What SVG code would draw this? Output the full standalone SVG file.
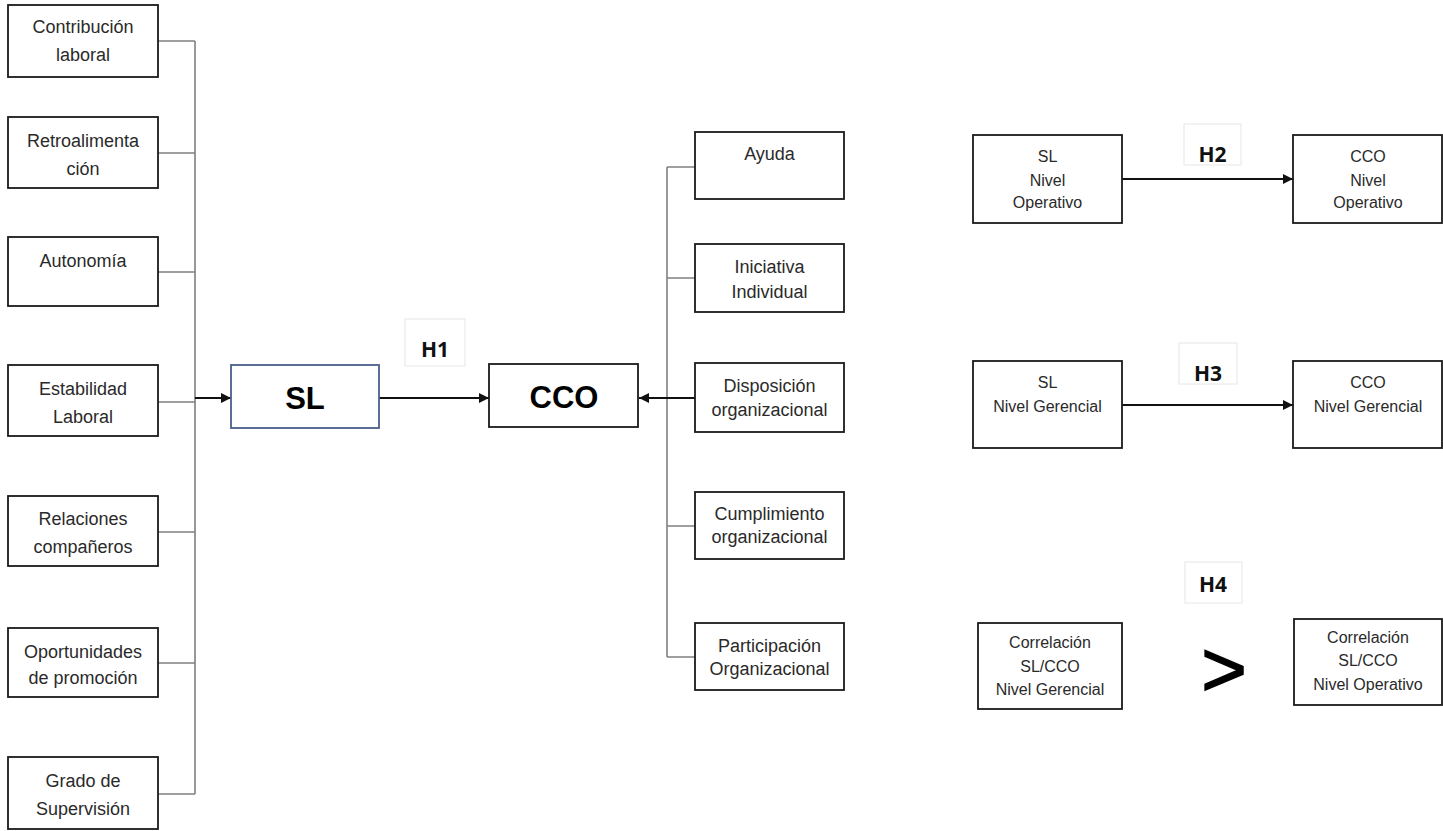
<svg xmlns="http://www.w3.org/2000/svg" width="1443" height="831" viewBox="0 0 1443 831">
<style>
.box{fill:#fff;stroke:#1a1a1a;stroke-width:1.8}
.sl{fill:#fff;stroke:#4a5f8c;stroke-width:1.8}
.lbl{fill:#fff;stroke:#e6e6e6;stroke-width:1}
.t{font-family:"Liberation Sans",Arial,sans-serif;font-size:18px;fill:#2a2a2a;text-anchor:middle}
.s{font-family:"Liberation Sans",Arial,sans-serif;font-size:16px;fill:#2a2a2a;text-anchor:middle}
.big{font-family:"Liberation Sans",Arial,sans-serif;font-size:31px;font-weight:bold;fill:#000;text-anchor:middle}
.h{font-family:"Open Sans","Liberation Sans",sans-serif;font-size:21px;font-weight:bold;fill:#111;text-anchor:middle}
.g{stroke:#808080;stroke-width:1.6;fill:none}
.a{stroke:#111;stroke-width:1.8;fill:none;marker-end:url(#ah)}
</style>
<defs>
<marker id="ah" viewBox="0 0 10 10" refX="10" refY="5" markerWidth="10" markerHeight="10" markerUnits="userSpaceOnUse" orient="auto">
<path d="M0,0 L10,5 L0,10 z" fill="#111"/>
</marker>
</defs>
<rect width="1443" height="831" fill="#fff"/>
<g id="connectors">
<path class="g" d="M195,41 V794 M158,41 H195 M158,153 H195 M158,272 H195 M158,402 H195 M158,532 H195 M158,663 H195 M158,794 H195"/>
<path class="a" d="M195,398 H231"/>
<path class="a" d="M379,398 H489"/>
<path class="g" d="M667,167 V657 M667,167 H695 M667,278 H695 M667,526 H695 M667,657 H695"/>
<path class="a" d="M695,398 H639"/>
<path class="a" d="M1122,179 H1293"/>
<path class="a" d="M1122,405 H1293"/>
</g>
<g id="n-contribucion"><rect class="box" x="8" y="5" width="150" height="72"/><text class="t" x="83" y="33">Contribución</text><text class="t" x="83" y="61">laboral</text></g>
<g id="n-retro"><rect class="box" x="8" y="117" width="150" height="71"/><text class="t" x="83" y="147">Retroalimenta</text><text class="t" x="83" y="175">ción</text></g>
<g id="n-autonomia"><rect class="box" x="8" y="237" width="150" height="69"/><text class="t" x="83" y="267">Autonomía</text></g>
<g id="n-estabilidad"><rect class="box" x="8" y="365" width="150" height="71"/><text class="t" x="83" y="395">Estabilidad</text><text class="t" x="83" y="423">Laboral</text></g>
<g id="n-relaciones"><rect class="box" x="8" y="496" width="150" height="70"/><text class="t" x="83" y="525">Relaciones</text><text class="t" x="83" y="553">compañeros</text></g>
<g id="n-oportunidades"><rect class="box" x="8" y="628" width="150" height="69"/><text class="t" x="83" y="658">Oportunidades</text><text class="t" x="83" y="684">de promoción</text></g>
<g id="n-grado"><rect class="box" x="8" y="757" width="150" height="72"/><text class="t" x="83" y="787">Grado de</text><text class="t" x="83" y="815">Supervisión</text></g>
<g id="n-sl"><rect class="sl" x="231" y="365" width="148" height="63"/><text class="big" x="305" y="409">SL</text></g>
<g id="l-h1"><rect class="lbl" x="405" y="319" width="60" height="47"/><text class="h" x="435" y="357">H1</text></g>
<g id="n-cco"><rect class="box" x="489" y="364" width="149" height="63"/><text class="big" x="564" y="408">CCO</text></g>
<g id="n-ayuda"><rect class="box" x="695" y="132" width="149" height="67"/><text class="t" x="769.5" y="160">Ayuda</text></g>
<g id="n-iniciativa"><rect class="box" x="695" y="244" width="149" height="68"/><text class="t" x="769.5" y="273">Iniciativa</text><text class="t" x="769.5" y="298">Individual</text></g>
<g id="n-disposicion"><rect class="box" x="695" y="363" width="149" height="69"/><text class="t" x="769.5" y="392">Disposición</text><text class="t" x="769.5" y="416">organizacional</text></g>
<g id="n-cumplimiento"><rect class="box" x="695" y="492" width="149" height="67"/><text class="t" x="769.5" y="520">Cumplimiento</text><text class="t" x="769.5" y="543">organizacional</text></g>
<g id="n-participacion"><rect class="box" x="695" y="623" width="149" height="67"/><text class="t" x="769.5" y="652">Participación</text><text class="t" x="769.5" y="675">Organizacional</text></g>
<g id="n-sl-op"><rect class="box" x="973" y="135" width="149" height="88"/><text class="s" x="1047.5" y="162">SL</text><text class="s" x="1047.5" y="186">Nivel</text><text class="s" x="1047.5" y="208">Operativo</text></g>
<g id="l-h2"><rect class="lbl" x="1184" y="124" width="57" height="41"/><text class="h" x="1212.5" y="162">H2</text></g>
<g id="n-cco-op"><rect class="box" x="1293" y="135" width="149" height="88"/><text class="s" x="1368" y="162">CCO</text><text class="s" x="1368" y="186">Nivel</text><text class="s" x="1368" y="208">Operativo</text></g>
<g id="n-sl-ger"><rect class="box" x="973" y="361" width="149" height="87"/><text class="s" x="1047.5" y="388">SL</text><text class="s" x="1047.5" y="412">Nivel Gerencial</text></g>
<g id="l-h3"><rect class="lbl" x="1179" y="343" width="58" height="41"/><text class="h" x="1208" y="381">H3</text></g>
<g id="n-cco-ger"><rect class="box" x="1293" y="361" width="149" height="87"/><text class="s" x="1368" y="388">CCO</text><text class="s" x="1368" y="412">Nivel Gerencial</text></g>
<g id="l-h4"><rect class="lbl" x="1185" y="562" width="57" height="41"/><text class="h" x="1213" y="592">H4</text></g>
<g id="n-corr-ger"><rect class="box" x="978" y="623" width="144" height="86"/><text class="s" x="1050" y="648">Correlación</text><text class="s" x="1050" y="672">SL/CCO</text><text class="s" x="1050" y="695">Nivel Gerencial</text></g>
<g id="gt"><text x="1224" y="696" style="font-family:'Liberation Sans',Arial,sans-serif;font-size:78px;fill:#000;text-anchor:middle;stroke:#000;stroke-width:1.5">&gt;</text></g>
<g id="n-corr-op"><rect class="box" x="1294" y="619" width="148" height="86"/><text class="s" x="1368" y="643">Correlación</text><text class="s" x="1368" y="666">SL/CCO</text><text class="s" x="1368" y="690">Nivel Operativo</text></g>
</svg>
